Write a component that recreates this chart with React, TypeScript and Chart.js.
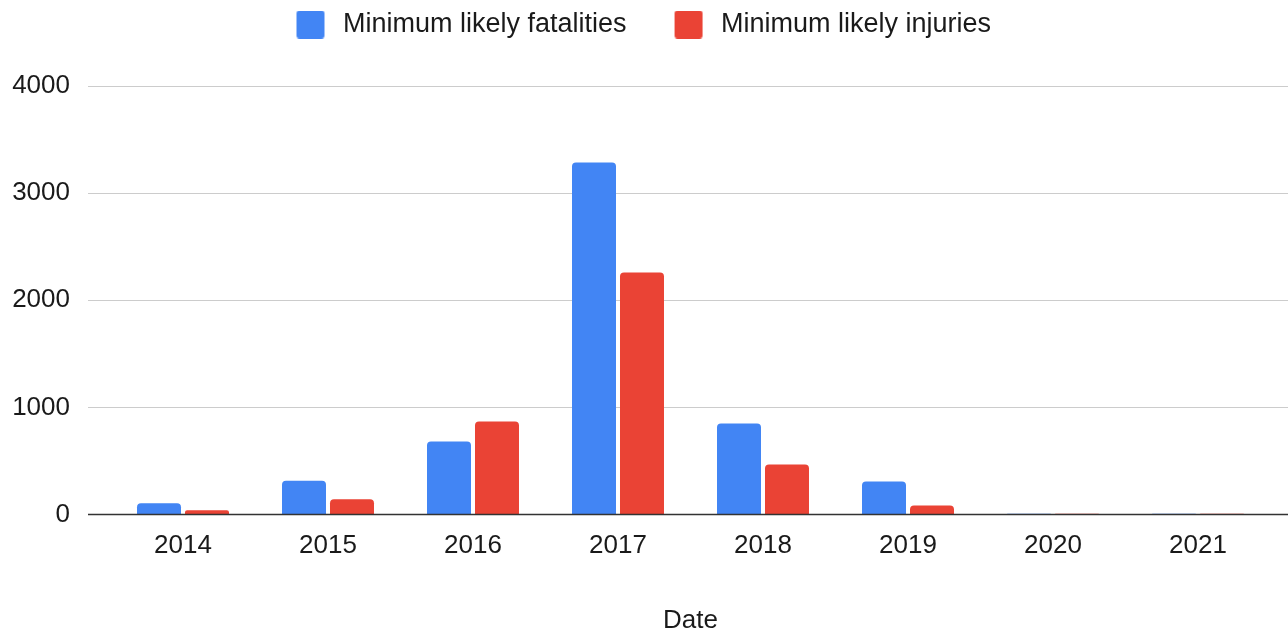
import React, { useEffect, useRef } from 'react';
import { Chart, registerables } from 'chart.js';

Chart.register(...registerables);

const categories = ['2014', '2015', '2016', '2017', '2018', '2019', '2020', '2021'];
const fatalities = [105, 315, 682, 3287, 850, 308, 8, 8];
const injuries = [40, 143, 869, 2259, 467, 84, 8, 8];
const seriesNames = ['Minimum likely fatalities', 'Minimum likely injuries'];
const seriesColors = ['#4285F4', '#EA4335'];
const yMin = 0;
const yMax = 4000;
const yStep = 1000;
const xTitle = 'Date';

const FONT = '"Liberation Sans", Arial, sans-serif';
const FONT_SIZE = 26;
const LEGEND_FONT_SIZE = 27;
const TEXT_COLOR = '#1a1a1a';

function makeLegendBox(color: string): HTMLCanvasElement {
  const c = document.createElement('canvas');
  c.width = 70;
  c.height = 28;
  const ctx = c.getContext('2d')!;
  ctx.fillStyle = color;
  const x = 37, y = 0, w = 28, h = 28, r = 3;
  ctx.beginPath();
  ctx.moveTo(x + r, y);
  ctx.lineTo(x + w - r, y);
  ctx.quadraticCurveTo(x + w, y, x + w, y + r);
  ctx.lineTo(x + w, y + h - r);
  ctx.quadraticCurveTo(x + w, y + h, x + w - r, y + h);
  ctx.lineTo(x + r, y + h);
  ctx.quadraticCurveTo(x, y + h, x, y + h - r);
  ctx.lineTo(x, y + r);
  ctx.quadraticCurveTo(x, y, x + r, y);
  ctx.closePath();
  ctx.fill();
  return c;
}

export default function App() {
  const ref = useRef<HTMLCanvasElement | null>(null);

  useEffect(() => {
    if (!ref.current) return;
    const boxes = seriesColors.map(makeLegendBox);

    const gridPlugin = {
      id: 'customGrid',
      afterInit(chart: any) {
        const lg = chart.legend;
        if (lg) {
          const orig = lg.fit;
          lg.fit = function () {
            orig.call(this);
            this.height = 86;
          };
        }
      },
      beforeDatasetsDraw(chart: any) {
        const ctx = chart.ctx;
        const ys = chart.scales.y;
        ctx.save();
        ctx.strokeStyle = '#cccccc';
        ctx.lineWidth = 1;
        ys.ticks.forEach((t: any) => {
          if (t.value === 0) return;
          const y = Math.round(ys.getPixelForValue(t.value)) + 0.5;
          ctx.beginPath();
          ctx.moveTo(88, y);
          ctx.lineTo(1288, y);
          ctx.stroke();
        });
        ctx.restore();
      },
      afterDatasetsDraw(chart: any) {
        const ctx = chart.ctx;
        const ys = chart.scales.y;
        const y = ys.getPixelForValue(0);
        ctx.save();
        ctx.strokeStyle = '#333333';
        ctx.lineWidth = 1.5;
        ctx.beginPath();
        ctx.moveTo(88, y);
        ctx.lineTo(1288, y);
        ctx.stroke();
        ctx.restore();
      },
    };

    const chart = new Chart(ref.current, {
      type: 'bar',
      data: {
        labels: categories,
        datasets: [
          {
            label: seriesNames[0],
            data: fatalities,
            backgroundColor: seriesColors[0],
            borderRadius: 4,
            borderSkipped: 'start',
            categoryPercentage: 0.662,
            barPercentage: 0.9167,
          },
          {
            label: seriesNames[1],
            data: injuries,
            backgroundColor: seriesColors[1],
            borderRadius: 4,
            borderSkipped: 'start',
            categoryPercentage: 0.662,
            barPercentage: 0.9167,
          },
        ],
      },
      options: {
        responsive: false,
        animation: false,
        layout: { padding: { top: 0, left: -20, right: 17.5, bottom: 0 } },
        plugins: {
          tooltip: { enabled: false },
          legend: {
            position: 'top',
            labels: {
              usePointStyle: true,
              pointStyleWidth: 70,
              boxHeight: 27,
              padding: 11,
              color: TEXT_COLOR,
              font: { family: FONT, size: LEGEND_FONT_SIZE },
              generateLabels: (c: any) =>
                (Chart.defaults.plugins.legend.labels.generateLabels as any)(c).map((l: any, i: number) => ({
                  ...l,
                  pointStyle: boxes[i],
                })),
            },
          },
        },
        scales: {
          x: {
            offset: true,
            grid: { display: false, drawTicks: false },
            border: { display: false },
            ticks: {
              color: TEXT_COLOR,
              font: { family: FONT, size: FONT_SIZE },
              padding: 16,
              maxRotation: 0,
            },
            title: {
              display: true,
              text: xTitle,
              color: TEXT_COLOR,
              font: { family: FONT, size: FONT_SIZE },
              padding: { top: 0, bottom: -6 },
            },
            afterFit(scale: any) {
              scale.height = 115.5;
            },
          },
          y: {
            min: yMin,
            max: yMax,
            grid: { display: false, drawTicks: false },
            border: { display: false },
            ticks: {
              stepSize: yStep,
              color: TEXT_COLOR,
              font: { family: FONT, size: FONT_SIZE },
              padding: 40.5,
              callback: (v: any) => String(v),
            },
            afterFit(scale: any) {
              scale.width = 130.5;
            },
          },
        },
      },
      plugins: [gridPlugin],
    });

    return () => chart.destroy();
  }, []);

  return (
    <div style={{ position: 'absolute', left: 0, top: 0, width: 1288, height: 630, background: '#fff' }}>
      <canvas ref={ref} width={1288} height={630} style={{ display: 'block', width: 1288, height: 630 }} />
    </div>
  );
}
